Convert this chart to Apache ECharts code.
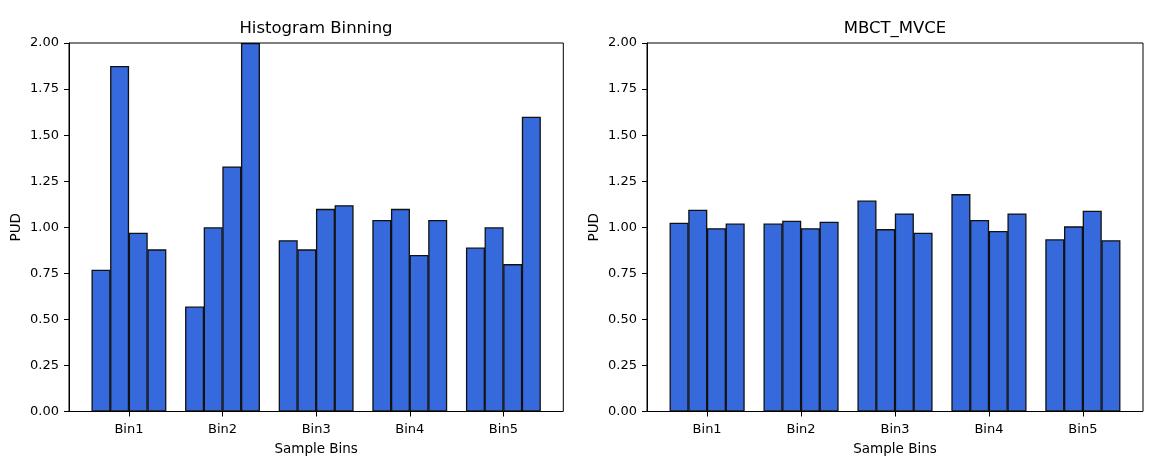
<!DOCTYPE html>
<html>
<head>
<meta charset="utf-8">
<script src="https://cdn.jsdelivr.net/npm/echarts@6/dist/echarts.min.js"></script>
<style>
  html, body { margin: 0; padding: 0; background: #fff; }
  #container { width: 1159px; height: 464px; }
</style>
</head>
<body>
<div id="container"></div>
<script>
const bins = ['Bin1', 'Bin2', 'Bin3', 'Bin4', 'Bin5'];

// Histogram Binning, four bars per bin
const histA = [0.77, 0.57, 0.93, 1.04, 0.89];
const histB = [1.875, 1.00, 0.88, 1.10, 1.00];
const histC = [0.97, 1.33, 1.10, 0.85, 0.80];
const histD = [0.88, 2.00, 1.12, 1.04, 1.60];

// MBCT_MVCE, four bars per bin
const mvceA = [1.025, 1.02, 1.145, 1.18, 0.935];
const mvceB = [1.095, 1.035, 0.99, 1.04, 1.005];
const mvceC = [0.995, 0.995, 1.075, 0.98, 1.09];
const mvceD = [1.02, 1.03, 0.97, 1.075, 0.93];

const yTicks = [0, 0.25, 0.5, 0.75, 1.0, 1.25, 1.5, 1.75, 2.0];

function draw_bars() {
    let dom = document.getElementById("container");
    let myChart = echarts.init(dom);

    const font = 'DejaVu Sans';
    const barColor = '#3569dc';

    let barStyle = {
        color: barColor,
        borderColor: '#111',
        borderWidth: 1.3
    };

    function frameY(gridIndex) {
        return {
            type: 'value',
            gridIndex: gridIndex,
            min: yTicks[0],
            max: yTicks[yTicks.length - 1],
            interval: 0.25,
            name: 'PUD',
            nameLocation: 'middle',
            nameGap: 46,
            nameTextStyle: {color: '#000', fontFamily: font, fontSize: 13.5},
            axisLine: {show: true, lineStyle: {color: '#000', width: 1}},
            axisTick: {show: true, length: 5, lineStyle: {color: '#000'}},
            axisLabel: {
                color: '#000', fontFamily: font, fontSize: 13, margin: 10,
                formatter: v => v.toFixed(2)
            },
            splitLine: {show: false}
        };
    }

    function frameX(gridIndex) {
        return {
            type: 'value', gridIndex: gridIndex, min: 0, max: 1, show: false
        };
    }

    function dataX(gridIndex) {
        return {
            type: 'category',
            gridIndex: gridIndex,
            data: bins,
            name: 'Sample Bins',
            nameLocation: 'middle',
            nameGap: 31,
            nameTextStyle: {color: '#000', fontFamily: font, fontSize: 13.5},
            axisLine: {show: false},
            axisTick: {show: true, alignWithLabel: true, length: 5, lineStyle: {color: '#000'}},
            axisLabel: {color: '#000', fontFamily: font, fontSize: 13, margin: 12}
        };
    }

    function dataY(gridIndex) {
        return {
            type: 'value', gridIndex: gridIndex, min: 0, max: 2, show: false,
            splitLine: {show: false}
        };
    }

    function barSeries(xi, values) {
        return {
            type: 'bar',
            xAxisIndex: xi,
            yAxisIndex: xi,
            data: values,
            barGap: '-2%',
            barCategoryGap: '20%',
            itemStyle: barStyle,
            silent: true
        };
    }

    let titleStyle = {color: '#000', fontFamily: font, fontSize: 16.5, fontWeight: 'normal'};

    let option = {
        backgroundColor: '#fff',
        animation: false,
        title: [
            {text: 'Histogram Binning', left: 316, top: 20, padding: 0, textAlign: 'center', textStyle: titleStyle},
            {text: 'MBCT_MVCE', left: 895, top: 20, padding: 0, textAlign: 'center', textStyle: titleStyle}
        ],
        grid: [
            // frames
            {left: 69, right: 595.7, top: 43, bottom: 52.5, show: true, borderColor: '#000', borderWidth: 1, backgroundColor: 'transparent', z: 3},
            {left: 647, right: 16, top: 43, bottom: 52.5, show: true, borderColor: '#000', borderWidth: 1, backgroundColor: 'transparent', z: 3},
            // bar areas
            {left: 82.1, right: 608.8, top: 43, bottom: 52.5},
            {left: 660.15, right: 29.15, top: 43, bottom: 52.5}
        ],
        xAxis: [frameX(0), frameX(1), dataX(2), dataX(3)],
        yAxis: [frameY(0), frameY(1), dataY(2), dataY(3)],
        series: [
            barSeries(2, histA), barSeries(2, histB), barSeries(2, histC), barSeries(2, histD),
            barSeries(3, mvceA), barSeries(3, mvceB), barSeries(3, mvceC), barSeries(3, mvceD)
        ]
    };

    if (option && typeof option === "object") {
        myChart.setOption(option, true);
    }
}

draw_bars();
</script>
</body>
</html>
